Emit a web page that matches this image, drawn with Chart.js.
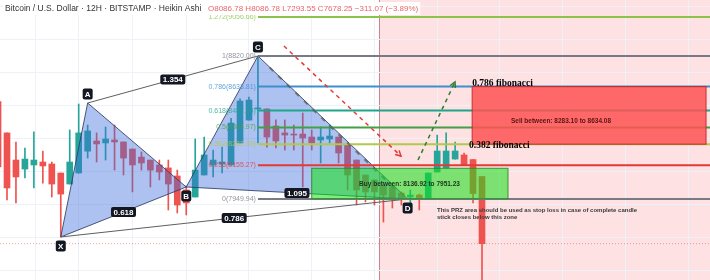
<!DOCTYPE html>
<html lang="en">
<head>
    <meta charset="UTF-8">
    <title>BTCUSD 12H Heikin Ashi</title>
    <style>
        html, body { margin: 0; padding: 0; background: #ffffff; }
        #wrap { width: 710px; height: 280px; }
    </style>
</head>
<body>
<div id="wrap"><canvas id="grafico" width="710" height="280"></canvas></div>
<script src="https://cdn.jsdelivr.net/npm/chart.js"></script>
<script type="text/javascript">
        // heikin ashi candles (bar number, open, high, low, close)
        var barras = [-1, 0, 1, 2, 3, 4, 5, 6, 7, 8, 9, 10, 11, 12, 13, 14, 15, 16, 17, 18, 19, 20,
            21, 22, 23, 24, 25, 26, 27, 28, 29, 30, 31, 32, 33, 34, 35, 36, 37, 38, 39, 40,
            41, 42, 43, 44, 45, 46, 47, 48, 49, 50, 51, 52, 53];
        var aperturas = [8542, 8352, 8187, 8132, 8157, 8175, 8163, 8108, 8041, 8108, 8241, 8303, 8291, 8309, 8297, 8254, 8205, 8187, 8157, 8139, 8090, 8005,
            7962, 8096, 8157, 8163, 8157, 8291, 8430, 8498, 8498, 8394, 8352, 8345, 8345, 8327, 8309, 8315, 8327, 8278, 8187, 8096,
            8066, 8035, 8023, 7986, 7962, 7974, 7956, 8114, 8139, 8193, 8218, 8190, 8086.78];
        var maximos = [8580, 8352, 8297, 8260, 8358, 8242, 8175, 8108, 8370, 8528, 8400, 8352, 8388, 8400, 8297, 8254, 8236, 8187, 8187, 8187, 8126, 8029,
            8315, 8327, 8248, 8266, 8440, 8560, 8570, 8814, 8498, 8431, 8431, 8400, 8473, 8370, 8388, 8400, 8327, 8278, 8187, 8096,
            8066, 8035, 8023, 7993, 8005, 7980, 8108, 8339, 8352, 8297, 8230, 8190, 8086.78];
        var minimos = [8095, 7944, 7926, 8078, 8017, 8047, 7962, 7719, 8041, 8108, 8199, 8175, 8187, 8126, 8096, 7993, 8126, 8023, 8066, 7883, 7865, 7853,
            7962, 8096, 8084, 8108, 8157, 8291, 8430, 8291, 8266, 8260, 8248, 8248, 8023, 8248, 8169, 8290, 8169, 8005, 7913, 7932,
            7913, 7810, 7895, 7913, 7925, 7883, 7956, 8114, 8139, 8193, 8157, 7926, 7293.55];
        var cierres = [8145, 8017, 8084, 8193, 8187, 8151, 8041, 7980, 8175, 8352, 8364, 8285, 8315, 8297, 8199, 8157, 8169, 8126, 8114, 8041, 7913, 7926,
            8126, 8218, 8187, 8175, 8412, 8546, 8552, 8504, 8327, 8303, 8339, 8339, 8321, 8291, 8327, 8333, 8230, 8096, 8005, 7993,
            7993, 7974, 7956, 7956, 7974, 7956, 8108, 8242, 8242, 8242, 8157, 7983, 7678.25];

        // XABCD pattern
        var patronNombres = ['X', 'A', 'B', 'C', 'D'];
        var patronBarra = [6, 9, 20, 28, 44.7];
        var patronPrecio = [7719, 8534, 8023, 8820, 7950];
        var patronAbajo = [true, false, true, false, true];
        var ratiosTexto = ['0.618', '1.354', '1.095', '0.786'];
        var ratiosDesde = ['X', 'A', 'B', 'X'];
        var ratiosHasta = ['B', 'C', 'D', 'D'];

        // fibonacci retracement C -> D
        var fibNiveles = ['0', '0.236', '0.382', '0.5', '0.618', '0.786', '1', '1.272'];
        var fibPrecios = [7949.94, 8155.27, 8282.30, 8384.97, 8487.64, 8633.81, 8820.00, 9056.66];
        var fibColores = ['#787b86', '#e53935', '#b3c94a', '#43a047', '#1fa58c', '#3d8fd0', '#787b86', '#8bc34a'];
        var fibInicio = 28;

        var zonaCompra = [8136.92, 7951.23];
        var zonaCompraBarras = [34.0, 55.9];
        var zonaVenta = [8634.08, 8283.10];
        var zonaVentaBarras = [51.9, 78.0];
        var zonaRosaDesde = 41.5;
        var ultimoPrecio = 7678.25;

        var flechaRoja = [{x: 30.9, y: 8881}, {x: 43.96, y: 8211}];
        var flechaVerde = [{x: 45.86, y: 8187}, {x: 49.99, y: 8662}];
        var lineaTendencia = [{x: 29.3, y: 8750}, {x: 43.5, y: 8000}];

        var notas = [
            {t: '0.786 fibonacci', x: 51.9, y: 8649.6, f: 'bold 9.5px "Liberation Serif"', c: '#000000', a: 'left'},
            {t: '0.382 fibonacci', x: 51.55, y: 8272.4, f: 'bold 9.5px "Liberation Serif"', c: '#000000', a: 'left'},
            {t: 'Sell between: 8283.10 to 8634.08', x: 61.82, y: 8424.5, f: 'bold 6.5px "Liberation Sans"', c: '#5a1414', a: 'center'},
            {t: 'Buy between: 8136.92 to 7951.23', x: 44.91, y: 8041.2, f: 'bold 6.5px "Liberation Sans"', c: '#1e331e', a: 'center'},
            {t: 'This PRZ area should be used as stop loss in case of complete candle', x: 47.98, y: 7882.9, f: 'bold 6px "Liberation Sans"', c: '#3a3a3a', a: 'left'},
            {t: 'stick closes below this zone', x: 47.98, y: 7841, f: 'bold 6px "Liberation Sans"', c: '#3a3a3a', a: 'left'}
        ];

        var gridBarras = [3.2, 8, 14, 20, 27, 34, 41, 48, 55, 62, 69, 76];
        var gridPrecios = [9124, 8923, 8722, 8521, 8320, 8119, 7918, 7717, 7516];

        var xMin = -0.781, xMax = 78.44, yMin = 7457.1, yMax = 9160.7;

        function punto(n) {
            var i = patronNombres.indexOf(n);
            return {x: patronBarra[i], y: patronPrecio[i]};
        }

        var cuerpos = barras.map(function (b, i) { return {x: b, y: [aperturas[i], cierres[i]]}; });
        var mechas = barras.map(function (b, i) { return {x: b, y: [minimos[i], maximos[i]]}; });
        var coloresVelas = barras.map(function (b, i) { return cierres[i] >= aperturas[i] ? '#26a69a' : '#ef5350'; });

        var datasets = [];
        datasets.push({type: 'line', data: [{x: xMin, y: ultimoPrecio}, {x: xMax, y: ultimoPrecio}],
            borderColor: 'rgba(239,83,80,0.55)', borderWidth: 1, borderDash: [1, 2], pointRadius: 0, order: 30});
        datasets.push({type: 'bar', data: mechas, backgroundColor: coloresVelas, barThickness: 1, grouped: false, order: 21});
        datasets.push({type: 'bar', data: cuerpos, backgroundColor: coloresVelas, barThickness: 6, grouped: false, minBarLength: 1, order: 20});
        datasets.push({type: 'line', data: [punto('X'), punto('A'), punto('B'), punto('X')], fill: 'shape',
            backgroundColor: 'rgba(60,110,220,0.42)', borderColor: 'rgba(45,60,100,0.85)', borderWidth: 1, pointRadius: 0, order: 10});
        datasets.push({type: 'line', data: [punto('B'), punto('C'), punto('D'), punto('B')], fill: 'shape',
            backgroundColor: 'rgba(60,110,220,0.42)', borderColor: 'rgba(45,60,100,0.85)', borderWidth: 1, pointRadius: 0, order: 10});
        datasets.push({type: 'line', data: [punto('A'), punto('C')], borderColor: '#5f5f5f', borderWidth: 1, pointRadius: 0, order: 9});
        datasets.push({type: 'line', data: [punto('X'), punto('D')], borderColor: '#5f5f5f', borderWidth: 1, pointRadius: 0, order: 9});
        fibPrecios.forEach(function (p, i) {
            datasets.push({type: 'line', data: [{x: fibInicio, y: p}, {x: xMax, y: p}],
                borderColor: fibColores[i], borderWidth: 2, pointRadius: 0, order: 8});
        });
        datasets.push({type: 'line', data: lineaTendencia, borderColor: 'rgba(90,90,90,0.75)', borderWidth: 2, borderDash: [5, 7], pointRadius: 0, order: 7});
        datasets.push({type: 'line', data: flechaRoja, borderColor: '#e53935', borderWidth: 1.5, borderDash: [4, 4], pointRadius: 0, order: 6});
        datasets.push({type: 'line', data: flechaVerde, borderColor: '#2e7d32', borderWidth: 1.5, borderDash: [4, 4], pointRadius: 0, order: 6});

        function redondeado(c, x, y, w, h, r) {
            c.beginPath();
            c.moveTo(x + r, y);
            c.lineTo(x + w - r, y);
            c.quadraticCurveTo(x + w, y, x + w, y + r);
            c.lineTo(x + w, y + h - r);
            c.quadraticCurveTo(x + w, y + h, x + w - r, y + h);
            c.lineTo(x + r, y + h);
            c.quadraticCurveTo(x, y + h, x, y + h - r);
            c.lineTo(x, y + r);
            c.quadraticCurveTo(x, y, x + r, y);
            c.closePath();
        }

        function etiqueta(c, texto, cx, cy, w, h) {
            c.font = 'bold 8px "Liberation Sans"';
            var ancho = w || c.measureText(texto).width + 5;
            c.fillStyle = '#131722';
            redondeado(c, cx - ancho / 2, cy - h / 2, ancho, h, 2);
            c.fill();
            c.fillStyle = '#ffffff';
            c.textAlign = 'center';
            c.textBaseline = 'middle';
            c.fillText(texto, cx, cy + 0.5);
        }

        function punta(c, sx, sy, f, color) {
            var x0 = sx.getPixelForValue(f[0].x), y0 = sy.getPixelForValue(f[0].y);
            var x1 = sx.getPixelForValue(f[1].x), y1 = sy.getPixelForValue(f[1].y);
            var ang = Math.atan2(y1 - y0, x1 - x0);
            c.strokeStyle = color;
            c.lineWidth = 1.5;
            c.beginPath();
            c.moveTo(x1 - 6 * Math.cos(ang - 0.5), y1 - 6 * Math.sin(ang - 0.5));
            c.lineTo(x1, y1);
            c.lineTo(x1 - 6 * Math.cos(ang + 0.5), y1 - 6 * Math.sin(ang + 0.5));
            c.stroke();
        }

        var dibujos = {
            id: 'dibujos',
            beforeDraw: function (chart) {
                var c = chart.ctx, a = chart.chartArea, sx = chart.scales.x;
                c.save();
                c.fillStyle = '#ffffff';
                c.fillRect(0, 0, chart.width, chart.height);
                var xr = sx.getPixelForValue(zonaRosaDesde);
                c.fillStyle = 'rgba(242,54,69,0.15)';
                c.fillRect(xr, a.top, a.right - xr, a.bottom - a.top);
                c.strokeStyle = 'rgba(180,110,120,0.8)';
                c.lineWidth = 1;
                c.beginPath();
                c.moveTo(Math.round(xr) + 0.5, a.top);
                c.lineTo(Math.round(xr) + 0.5, a.bottom);
                c.stroke();
                c.restore();
            },
            afterDatasetsDraw: function (chart) {
                var c = chart.ctx, sx = chart.scales.x, sy = chart.scales.y;
                c.save();

                // buy zone
                var bx0 = sx.getPixelForValue(zonaCompraBarras[0]), bx1 = sx.getPixelForValue(zonaCompraBarras[1]);
                var by0 = sy.getPixelForValue(zonaCompra[0]), by1 = sy.getPixelForValue(zonaCompra[1]);
                c.fillStyle = 'rgba(20,225,20,0.55)';
                c.fillRect(bx0, by0, bx1 - bx0, by1 - by0);
                c.strokeStyle = 'rgba(40,140,40,0.9)';
                c.lineWidth = 1;
                c.strokeRect(bx0, by0, bx1 - bx0, by1 - by0);

                // sell zone
                var vx0 = sx.getPixelForValue(zonaVentaBarras[0]), vx1 = sx.getPixelForValue(zonaVentaBarras[1]);
                var vy0 = sy.getPixelForValue(zonaVenta[0]), vy1 = sy.getPixelForValue(zonaVenta[1]);
                c.fillStyle = 'rgba(255,82,82,0.85)';
                c.fillRect(vx0, vy0, vx1 - vx0, vy1 - vy0);
                c.strokeStyle = 'rgba(190,40,40,0.9)';
                c.strokeRect(vx0, vy0, vx1 - vx0, vy1 - vy0);

                punta(c, sx, sy, flechaRoja, '#e53935');
                punta(c, sx, sy, flechaVerde, '#2e7d32');

                // fib labels
                c.font = '7px "Liberation Sans"';
                c.textAlign = 'right';
                c.textBaseline = 'middle';
                var fx = sx.getPixelForValue(fibInicio) - 2;
                fibPrecios.forEach(function (p, i) {
                    c.globalAlpha = 0.8;
                    c.fillStyle = fibColores[i];
                    c.fillText(fibNiveles[i] + '(' + p.toFixed(2) + ')', fx, sy.getPixelForValue(p));
                });
                c.globalAlpha = 1;

                // ratio labels at the middle of each leg
                ratiosTexto.forEach(function (t, i) {
                    var p0 = punto(ratiosDesde[i]), p1 = punto(ratiosHasta[i]);
                    var mx = (sx.getPixelForValue(p0.x) + sx.getPixelForValue(p1.x)) / 2;
                    var my = (sy.getPixelForValue(p0.y) + sy.getPixelForValue(p1.y)) / 2;
                    etiqueta(c, t, mx, my, 0, 10);
                });

                // point labels
                patronNombres.forEach(function (n, i) {
                    var x = sx.getPixelForValue(patronBarra[i]);
                    var y = sy.getPixelForValue(patronPrecio[i]) + (patronAbajo[i] ? 9 : -9);
                    etiqueta(c, n, x, y, 10, 11);
                });

                // notes
                notas.forEach(function (n) {
                    c.font = n.f;
                    c.fillStyle = n.c;
                    c.textAlign = n.a;
                    c.textBaseline = 'middle';
                    c.fillText(n.t, sx.getPixelForValue(n.x), sy.getPixelForValue(n.y));
                });

                // header
                var t1 = 'Bitcoin / U.S. Dollar \u00b7 12H \u00b7 BITSTAMP \u00b7 Heikin Ashi';
                var t2 = 'O8086.78 H8086.78 L7293.55 C7678.25 \u2212311.07 (\u22123.89%)';
                c.font = '8.5px "Liberation Sans"';
                var w1 = c.measureText(t1).width;
                c.font = '8px "Liberation Sans"';
                var w2 = c.measureText(t2).width;
                var x2 = Math.max(208, 5 + w1 + 6);
                c.fillStyle = '#ffffff';
                c.fillRect(3, 2, x2 + w2 - 1, 13);
                c.textAlign = 'left';
                c.textBaseline = 'middle';
                c.font = '8.5px "Liberation Sans"';
                c.fillStyle = '#333333';
                c.fillText(t1, 5, 9);
                c.font = '8px "Liberation Sans"';
                c.fillStyle = '#e8676a';
                c.fillText(t2, x2, 9);
                c.restore();
            }
        };

        var grafico = new Chart(document.getElementById('grafico'), {
            type: 'bar',
            data: {datasets: datasets},
            options: {
                responsive: false,
                animation: false,
                layout: {padding: 0},
                plugins: {legend: {display: false}, tooltip: {enabled: false}},
                scales: {
                    x: {
                        type: 'linear', min: xMin, max: xMax, offset: false,
                        ticks: {display: false},
                        border: {display: false},
                        grid: {color: '#eef1f6', drawTicks: false, offset: false},
                        afterBuildTicks: function (s) { s.ticks = gridBarras.map(function (v) { return {value: v}; }); }
                    },
                    y: {
                        type: 'linear', min: yMin, max: yMax,
                        ticks: {display: false},
                        border: {display: false},
                        grid: {color: '#eef1f6', drawTicks: false},
                        afterBuildTicks: function (s) { s.ticks = gridPrecios.map(function (v) { return {value: v}; }); }
                    }
                }
            },
            plugins: [dibujos]
        });
</script>
</body>
</html>
